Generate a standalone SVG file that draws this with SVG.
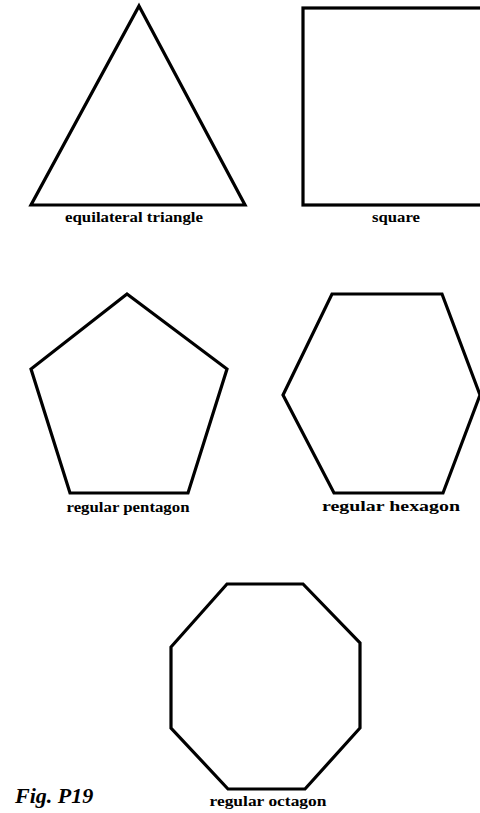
<svg xmlns="http://www.w3.org/2000/svg" width="480" height="813" viewBox="0 0 480 813">
<style>
.shape{fill:none;stroke:#000;stroke-width:3.2;stroke-linejoin:miter}
.lbl{font-family:"Liberation Serif",serif;font-weight:bold;font-size:14px;fill:#000;text-anchor:middle}
.fig{font-family:"Liberation Serif",serif;font-weight:bold;font-style:italic;font-size:22px;fill:#000}
</style>
<rect width="480" height="813" fill="#fff"/>
<g id="triangle">
<polygon class="shape" points="139,6 245,205 31,205"/>
<text class="lbl" x="134" y="222" textLength="138" lengthAdjust="spacingAndGlyphs">equilateral triangle</text>
</g>
<g id="square">
<rect class="shape" x="303" y="8" width="190" height="197"/>
<text class="lbl" x="396" y="222" textLength="48" lengthAdjust="spacingAndGlyphs">square</text>
</g>
<g id="pentagon">
<polygon class="shape" points="127,294 227,369 188,493 70,493 31,369"/>
<text class="lbl" x="128" y="512" textLength="123" lengthAdjust="spacingAndGlyphs">regular pentagon</text>
</g>
<g id="hexagon">
<polygon class="shape" points="332,294 442,294 480,395 443,493 334,493 283,395"/>
<text class="lbl" x="391" y="511" textLength="138" lengthAdjust="spacingAndGlyphs">regular hexagon</text>
</g>
<g id="octagon">
<polygon class="shape" points="227,584 303,584 360,643 360,728 305,789 228,789 171,728 171,647"/>
<text class="lbl" x="268" y="806" textLength="117" lengthAdjust="spacingAndGlyphs">regular octagon</text>
</g>
<g id="connectors"></g>
<text class="fig" x="15" y="803">Fig. P19</text>
</svg>
